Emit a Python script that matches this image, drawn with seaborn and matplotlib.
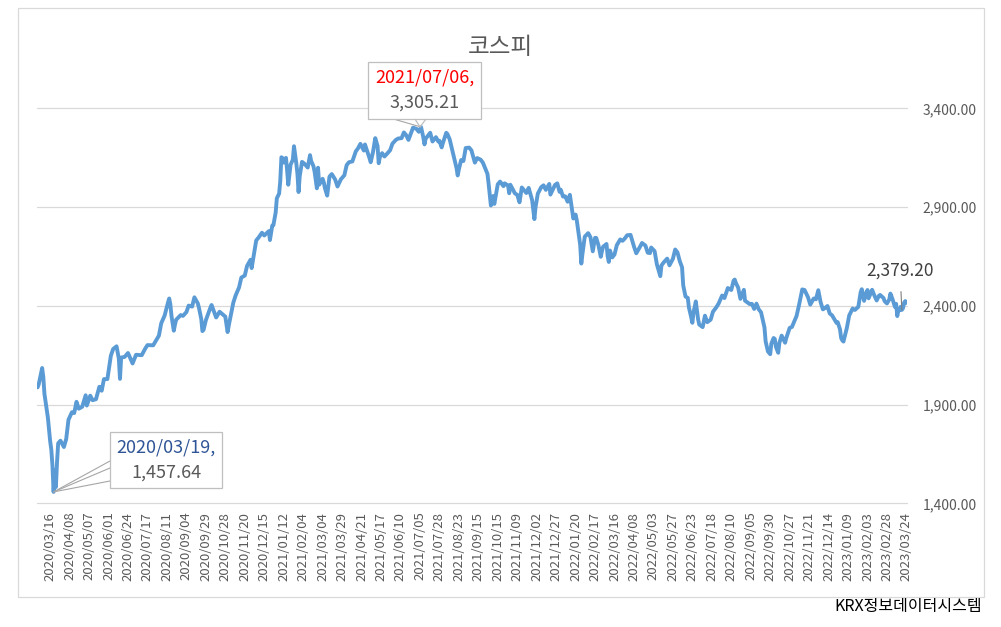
import numpy as np
import pandas as pd
import matplotlib
matplotlib.use("Agg")
import matplotlib.pyplot as plt
import seaborn as sns
from matplotlib.patches import Rectangle, Polygon

# ---------------- data ----------------
title = "코스피"
source = "KRX정보데이터시스템"

start_date = "2020-02-28"
end_date = "2023-03-24"
krx_holidays = [
    "2020-04-15", "2020-04-30", "2020-05-01", "2020-05-05", "2020-08-17",
    "2020-09-30", "2020-10-01", "2020-10-02", "2020-10-09", "2020-12-25", "2020-12-31",
    "2021-01-01", "2021-02-11", "2021-02-12", "2021-03-01", "2021-05-05", "2021-05-19",
    "2021-08-16", "2021-09-20", "2021-09-21", "2021-09-22", "2021-10-04", "2021-10-11",
    "2021-12-31",
    "2022-01-31", "2022-02-01", "2022-02-02", "2022-03-01", "2022-03-09", "2022-05-05",
    "2022-06-01", "2022-06-06", "2022-08-15", "2022-09-09", "2022-09-12", "2022-10-03",
    "2022-10-10", "2022-12-30",
    "2023-01-23", "2023-01-24", "2023-03-01",
]

dates_2020 = [
    "2020-02-28", "2020-03-02", "2020-03-05", "2020-03-06", "2020-03-09", "2020-03-12",
    "2020-03-13", "2020-03-16", "2020-03-17", "2020-03-18", "2020-03-19", "2020-03-20",
    "2020-03-23", "2020-03-24", "2020-03-25", "2020-03-27", "2020-04-01", "2020-04-03",
    "2020-04-07", "2020-04-10", "2020-04-14", "2020-04-17", "2020-04-21", "2020-04-24",
    "2020-04-29", "2020-05-04", "2020-05-08", "2020-05-12", "2020-05-15", "2020-05-20",
    "2020-05-22", "2020-05-26", "2020-05-29", "2020-06-03", "2020-06-05", "2020-06-10",
    "2020-06-12", "2020-06-15", "2020-06-16", "2020-06-19", "2020-06-24", "2020-06-26",
    "2020-06-30", "2020-07-03", "2020-07-10", "2020-07-15", "2020-07-17", "2020-07-24",
    "2020-07-31", "2020-08-04", "2020-08-07", "2020-08-12", "2020-08-13", "2020-08-14",
    "2020-08-18", "2020-08-20", "2020-08-21", "2020-08-24", "2020-08-28", "2020-09-01",
    "2020-09-04", "2020-09-08", "2020-09-11", "2020-09-15", "2020-09-18", "2020-09-21",
    "2020-09-23", "2020-09-24", "2020-09-25", "2020-09-29", "2020-10-08", "2020-10-12",
    "2020-10-16", "2020-10-21", "2020-10-23", "2020-10-28", "2020-10-30", "2020-11-02",
    "2020-11-06", "2020-11-10", "2020-11-13", "2020-11-17", "2020-11-20", "2020-11-24",
    "2020-11-27", "2020-11-30", "2020-12-04", "2020-12-08", "2020-12-11", "2020-12-15",
    "2020-12-18", "2020-12-21", "2020-12-22", "2020-12-24", "2020-12-28", "2020-12-30",
]
values_2020 = [
    1987, 2002, 2085, 2040, 1954, 1834,
    1771, 1714, 1672, 1591, 1457.64, 1566,
    1482, 1609, 1704, 1717, 1685, 1725,
    1823, 1861, 1857, 1914, 1879, 1889,
    1947, 1895, 1945, 1922, 1927, 1990,
    1970, 2029, 2029, 2147, 2181, 2195,
    2132, 2030, 2138, 2141, 2161, 2134,
    2108, 2152, 2150, 2183, 2201, 2200,
    2249, 2311, 2351, 2418, 2437, 2407,
    2348, 2274, 2304, 2329, 2353, 2349,
    2368, 2401, 2396, 2443, 2412, 2389,
    2333, 2272, 2278, 2327, 2391, 2404,
    2341, 2370, 2360, 2345, 2267, 2300,
    2416, 2452, 2493, 2543, 2553, 2602,
    2633, 2591, 2731, 2745, 2770, 2756,
    2772, 2778, 2733, 2806, 2808, 2873,
]

dates_2021 = [
    "2021-01-04", "2021-01-06", "2021-01-07", "2021-01-08", "2021-01-11", "2021-01-12",
    "2021-01-14", "2021-01-15", "2021-01-18", "2021-01-20", "2021-01-22", "2021-01-25",
    "2021-01-27", "2021-01-28", "2021-01-29", "2021-02-01", "2021-02-03", "2021-02-05",
    "2021-02-10", "2021-02-16", "2021-02-17", "2021-02-19", "2021-02-22", "2021-02-24",
    "2021-02-25", "2021-02-26", "2021-03-04", "2021-03-05", "2021-03-08", "2021-03-10",
    "2021-03-12", "2021-03-16", "2021-03-19", "2021-03-23", "2021-03-26", "2021-03-31",
    "2021-04-02", "2021-04-06", "2021-04-09", "2021-04-14", "2021-04-16", "2021-04-20",
    "2021-04-23", "2021-04-26", "2021-04-30", "2021-05-03", "2021-05-06", "2021-05-10",
    "2021-05-12", "2021-05-13", "2021-05-14", "2021-05-18", "2021-05-21", "2021-05-25",
    "2021-05-28", "2021-06-01", "2021-06-04", "2021-06-08", "2021-06-11", "2021-06-15",
    "2021-06-17", "2021-06-21", "2021-06-24", "2021-06-25", "2021-06-30", "2021-07-02",
    "2021-07-06", "2021-07-08", "2021-07-09", "2021-07-12", "2021-07-16", "2021-07-20",
    "2021-07-23", "2021-07-27", "2021-07-28", "2021-07-30", "2021-08-02", "2021-08-05",
    "2021-08-06", "2021-08-10", "2021-08-13", "2021-08-19", "2021-08-20", "2021-08-23",
    "2021-08-25", "2021-08-27", "2021-08-31", "2021-09-03", "2021-09-07", "2021-09-10",
    "2021-09-14", "2021-09-17", "2021-09-24", "2021-09-28", "2021-09-30", "2021-10-01",
    "2021-10-05", "2021-10-06", "2021-10-08", "2021-10-12", "2021-10-15", "2021-10-19",
    "2021-10-22", "2021-10-25", "2021-10-28", "2021-10-29", "2021-11-01", "2021-11-05",
    "2021-11-09", "2021-11-11", "2021-11-15", "2021-11-19", "2021-11-23", "2021-11-26",
    "2021-11-30", "2021-12-01", "2021-12-03", "2021-12-08", "2021-12-10", "2021-12-14",
    "2021-12-17", "2021-12-20", "2021-12-24", "2021-12-28", "2021-12-30",
]
values_2021 = [
    2944, 2968, 3031, 3152, 3148, 3125,
    3149, 3085, 3013, 3114, 3140, 3208,
    3122, 3069, 2976, 3056, 3129, 3120,
    3100, 3163, 3133, 3107, 3079, 2995,
    3099, 3013, 3043, 3026, 2996, 2958,
    3054, 3067, 3039, 3004, 3041, 3061,
    3112, 3127, 3131, 3182, 3198, 3220,
    3186, 3217, 3147, 3127, 3178, 3249,
    3209, 3122, 3153, 3173, 3156, 3168,
    3188, 3221, 3240, 3247, 3249, 3278,
    3264, 3240, 3286, 3302, 3296, 3281,
    3305.21, 3252, 3217, 3246, 3276, 3232,
    3254, 3232, 3236, 3202, 3223, 3276,
    3270, 3243, 3171, 3097, 3060, 3090,
    3138, 3133, 3199, 3201, 3187, 3125,
    3148, 3140, 3125, 3097, 3068, 3019,
    2962, 2908, 2956, 2916, 3015, 3029,
    3006, 3020, 3009, 2970, 3013, 2969,
    2962, 2924, 2999, 2971, 2997, 2936,
    2839, 2899, 2968, 3001, 3010, 2987,
    3017, 2963, 3012, 3020, 2977,
]

dates_2022 = [
    "2022-01-03", "2022-01-05", "2022-01-07", "2022-01-11", "2022-01-13", "2022-01-14",
    "2022-01-18", "2022-01-20", "2022-01-21", "2022-01-24", "2022-01-26", "2022-01-27",
    "2022-01-28", "2022-02-04", "2022-02-09", "2022-02-11", "2022-02-15", "2022-02-17",
    "2022-02-18", "2022-02-22", "2022-02-24", "2022-02-25", "2022-02-28", "2022-03-04",
    "2022-03-07", "2022-03-08", "2022-03-10", "2022-03-14", "2022-03-16", "2022-03-18",
    "2022-03-23", "2022-03-25", "2022-03-29", "2022-03-31", "2022-04-05", "2022-04-08",
    "2022-04-12", "2022-04-15", "2022-04-19", "2022-04-22", "2022-04-26", "2022-04-28",
    "2022-04-29", "2022-05-04", "2022-05-06", "2022-05-09", "2022-05-12", "2022-05-13",
    "2022-05-17", "2022-05-20", "2022-05-24", "2022-05-27", "2022-05-31", "2022-06-03",
    "2022-06-08", "2022-06-10", "2022-06-13", "2022-06-15", "2022-06-17", "2022-06-20",
    "2022-06-22", "2022-06-23", "2022-06-24", "2022-06-28", "2022-06-30", "2022-07-01",
    "2022-07-06", "2022-07-08", "2022-07-12", "2022-07-15", "2022-07-19", "2022-07-22",
    "2022-07-26", "2022-07-29", "2022-08-02", "2022-08-05", "2022-08-10", "2022-08-12",
    "2022-08-16", "2022-08-17", "2022-08-19", "2022-08-23", "2022-08-26", "2022-08-29",
    "2022-09-02", "2022-09-06", "2022-09-08", "2022-09-14", "2022-09-16", "2022-09-20",
    "2022-09-23", "2022-09-26", "2022-09-28", "2022-09-30", "2022-10-04", "2022-10-06",
    "2022-10-07", "2022-10-11", "2022-10-13", "2022-10-14", "2022-10-18", "2022-10-21",
    "2022-10-24", "2022-10-27", "2022-10-31", "2022-11-04", "2022-11-08", "2022-11-11",
    "2022-11-15", "2022-11-18", "2022-11-22", "2022-11-25", "2022-11-29", "2022-12-01",
    "2022-12-05", "2022-12-07", "2022-12-09", "2022-12-13", "2022-12-15", "2022-12-19",
    "2022-12-23", "2022-12-26", "2022-12-28", "2022-12-29",
]
values_2022 = [
    2988, 2953, 2954, 2927, 2962, 2921,
    2842, 2862, 2834, 2792, 2709, 2614,
    2663, 2750, 2768, 2747, 2676, 2744,
    2744, 2706, 2648, 2676, 2699, 2713,
    2651, 2622, 2680, 2645, 2660, 2707,
    2736, 2729, 2741, 2757, 2759, 2700,
    2666, 2696, 2718, 2705, 2669, 2667,
    2695, 2677, 2644, 2610, 2550, 2604,
    2620, 2639, 2605, 2638, 2685, 2670,
    2626, 2595, 2504, 2447, 2440, 2391,
    2342, 2314, 2366, 2422, 2332, 2305,
    2292, 2350, 2317, 2330, 2370, 2393,
    2412, 2452, 2439, 2490, 2480, 2527,
    2533, 2516, 2492, 2435, 2481, 2426,
    2409, 2410, 2384, 2411, 2382, 2367,
    2290, 2220, 2169, 2155, 2209, 2237,
    2232, 2192, 2162, 2212, 2249, 2213,
    2236, 2288, 2293, 2348, 2399, 2483,
    2480, 2444, 2406, 2437, 2433, 2479,
    2419, 2382, 2389, 2399, 2361, 2352,
    2313, 2317, 2280, 2236,
]

dates_2023 = [
    "2023-01-02", "2023-01-03", "2023-01-06", "2023-01-10", "2023-01-13", "2023-01-17",
    "2023-01-20", "2023-01-26", "2023-01-27", "2023-01-31", "2023-02-02", "2023-02-03",
    "2023-02-06", "2023-02-09", "2023-02-13", "2023-02-15", "2023-02-17", "2023-02-20",
    "2023-02-23", "2023-02-24", "2023-02-28", "2023-03-03", "2023-03-06", "2023-03-08",
    "2023-03-10", "2023-03-13", "2023-03-14", "2023-03-15", "2023-03-16", "2023-03-17",
    "2023-03-20", "2023-03-21", "2023-03-22", "2023-03-23", "2023-03-24",
]
values_2023 = [
    2225, 2219, 2289, 2351, 2386, 2379,
    2395, 2468, 2484, 2425, 2468, 2480,
    2438, 2481, 2452, 2427, 2451, 2455,
    2439, 2423, 2412, 2432, 2462, 2431,
    2394, 2410, 2348, 2379, 2377, 2395,
    2379.20, 2388, 2416, 2424, 2414.96,
]

tick_labels = [
    "2020/03/16", "2020/04/08", "2020/05/07", "2020/06/01", "2020/06/24", "2020/07/17",
    "2020/08/11", "2020/09/04", "2020/09/29", "2020/10/28", "2020/11/20", "2020/12/15",
    "2021/01/12", "2021/02/04", "2021/03/04", "2021/03/29", "2021/04/21", "2021/05/17",
    "2021/06/10", "2021/07/05", "2021/07/28", "2021/08/23", "2021/09/15", "2021/10/15",
    "2021/11/09", "2021/12/02", "2021/12/27", "2022/01/20", "2022/02/17", "2022/03/16",
    "2022/04/08", "2022/05/03", "2022/05/27", "2022/06/23", "2022/07/18", "2022/08/10",
    "2022/09/05", "2022/09/30", "2022/10/27", "2022/11/21", "2022/12/14", "2023/01/09",
    "2023/02/03", "2023/02/28", "2023/03/24",
]
y_ticks = [1400, 1900, 2400, 2900, 3400]

low_date, low_value = "2020-03-19", 1457.64
high_date, high_value = "2021-07-06", 3305.21
mark_date, mark_value = "2023-03-20", 2379.20

# ---------------- build ----------------
trading = pd.bdate_range(start_date, end_date)
trading = trading[~trading.isin(pd.to_datetime(krx_holidays))]

all_dates = pd.to_datetime(dates_2020 + dates_2021 + dates_2022 + dates_2023)
all_values = values_2020 + values_2021 + values_2022 + values_2023
df = pd.DataFrame({"pos": np.searchsorted(trading, all_dates), "kospi": all_values})

def pos_of(d):
    return int(np.searchsorted(trading, pd.Timestamp(d)))

tick_pos = [pos_of(t.replace("/", "-")) for t in tick_labels]

sns.set_theme(style="white")
plt.rcParams["font.family"] = ["Noto Sans CJK KR", "DejaVu Sans"]

W, H = 1001, 627
fig = plt.figure(figsize=(W / 100, H / 100), dpi=100)
ax = fig.add_axes([37 / W, 1 - 503.3 / H, (907 - 37) / W, (503.3 - 108.3) / H])

sns.lineplot(data=df, x="pos", y="kospi", ax=ax, color="#5B9BD5", linewidth=2.8,
             sort=True, estimator=None)
for ln in ax.get_lines():
    ln.set_solid_joinstyle("round")
    ln.set_solid_capstyle("round")

ax.set_xlim(-0.5, len(trading) - 0.5)
ax.set_ylim(1400, 3400)
ax.set_yticks(y_ticks)
ax.yaxis.tick_right()
ax.set_yticklabels([f"{v:,.2f}" for v in y_ticks])
ax.set_xticks(tick_pos)
ax.set_xticklabels(tick_labels, rotation=90)
ax.tick_params(axis="y", length=0, pad=11, labelsize=10, labelcolor="#595959")
ax.tick_params(axis="x", length=0, pad=6, labelsize=9.5, labelcolor="#595959")
ax.set_xlabel("")
ax.set_ylabel("")
for s in ax.spines.values():
    s.set_visible(False)
ax.yaxis.grid(True, color="#d9d9d9", linewidth=0.9)
ax.xaxis.grid(False)
ax.set_axisbelow(True)
for gl in ax.get_ygridlines():
    gl.set_clip_on(False)

def px(x, y):
    return (x / W, 1 - y / H)

# outer chart border
fig.patches.append(Rectangle(px(18, 597), (984 - 18) / W, (597 - 8) / H,
                             transform=fig.transFigure, fill=False,
                             edgecolor="#d9d9d9", linewidth=0.9))

fig.text(*px(500, 47), title, ha="center", va="center", fontsize=17, color="#595959")
fig.text(*px(982, 607), source, ha="right", va="center", fontsize=11.5, color="#000000")

# low label
lp = pos_of(low_date)
for ey in (461, 468, 481):
    ax.annotate("", xy=(lp, low_value), xycoords="data", xytext=px(110, ey),
                textcoords="figure fraction",
                arrowprops=dict(arrowstyle="-", color="#a6a6a6", lw=0.8,
                                shrinkA=0, shrinkB=0))
fig.patches.append(Rectangle(px(110, 488), (222 - 110) / W, (488 - 432) / H,
                             transform=fig.transFigure, facecolor="white",
                             edgecolor="#bfbfbf", linewidth=0.9, zorder=5))
fig.text(*px(166, 447), "2020/03/19,", ha="center", va="center", fontsize=13,
         color="#2F5597", zorder=6)
fig.text(*px(166, 473), "1,457.64", ha="center", va="center", fontsize=13,
         color="#595959", zorder=6)

# high label
hp = pos_of(high_date)
ax.annotate("", xy=(hp, high_value), xycoords="data", xytext=px(390, 118),
            textcoords="figure fraction",
            arrowprops=dict(arrowstyle="-", color="#a6a6a6", lw=0.8, shrinkA=0, shrinkB=0))
fig.patches.append(Rectangle(px(368, 119), (481 - 368) / W, (119 - 62) / H,
                             transform=fig.transFigure, facecolor="white",
                             edgecolor="#bfbfbf", linewidth=0.9, zorder=5))
fig.patches.append(Polygon([px(415, 119), px(420, 127), px(426, 119)], closed=False,
                           transform=fig.transFigure, fill=False,
                           edgecolor="#bfbfbf", linewidth=0.9, zorder=5))
fig.text(*px(424.5, 78), "2021/07/06,", ha="center", va="center", fontsize=13,
         color="#FF0000", zorder=6)
fig.text(*px(424.5, 103), "3,305.21", ha="center", va="center", fontsize=13,
         color="#595959", zorder=6)

# last mark label
mp = pos_of(mark_date)
ax.annotate(f"{mark_value:,.2f}", xy=(mp, mark_value), xycoords="data",
            xytext=px(900, 271), textcoords="figure fraction", ha="center", va="center",
            fontsize=12.5, color="#404040",
            arrowprops=dict(arrowstyle="-", color="#7f7f7f", lw=0.8, shrinkA=6, shrinkB=0))

fig.savefig("out.png", dpi=100)
